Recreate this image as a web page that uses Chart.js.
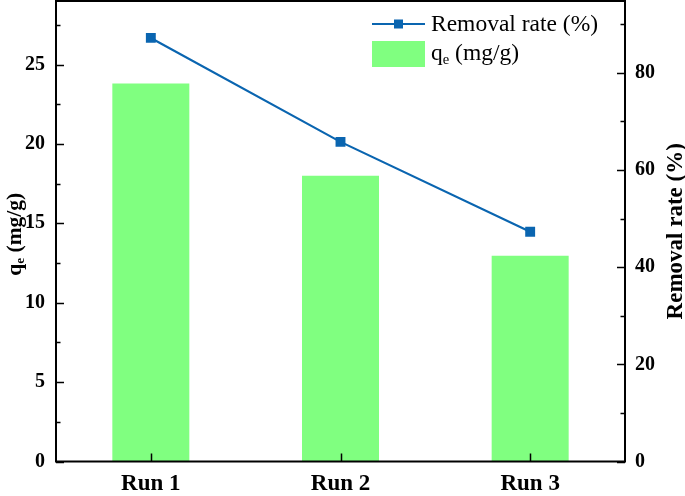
<!DOCTYPE html>
<html>
<head>
<meta charset="utf-8">
<script src="https://cdn.jsdelivr.net/npm/chart.js@4"></script>
<style>
  html, body { margin: 0; padding: 0; background: #fff; }
  #wrap { width: 685px; height: 496px; }
</style>
</head>
<body>
<div id="wrap"><canvas id="chart" width="685" height="496"></canvas></div>
<script>
const categories = ['Run 1', 'Run 2', 'Run 3'];
const qeValues = [23.8, 18.0, 12.95];
const removalValues = [87.2, 65.8, 47.3];
const qeAxisMax = 29;
const removalAxisMax = 94.8;

const SERIF = '"Liberation Serif", "Times New Roman", serif';
const LINE_COLOR = '#0a65b0';
const BAR_COLOR = '#80ff80';

// draws text with a subscript part, left aligned, middle baseline
function drawSubText(ctx, parts, x, y, size, bold) {
    let cx = x;
    parts.forEach(p => {
        const s = p.sub ? size * 0.62 : size;
        ctx.font = `${bold ? 'bold ' : ''}${s}px ${SERIF}`;
        ctx.fillText(p.t, cx, p.sub ? y + size * 0.28 : y);
        cx += ctx.measureText(p.t).width;
    });
    return cx - x;
}

function measureSubText(ctx, parts, size, bold) {
    let w = 0;
    parts.forEach(p => {
        const s = p.sub ? size * 0.62 : size;
        ctx.font = `${bold ? 'bold ' : ''}${s}px ${SERIF}`;
        w += ctx.measureText(p.t).width;
    });
    return w;
}

const framePlugin = {
    id: 'frame',
    afterDraw(chart) {
        const ctx = chart.ctx;
        const a = chart.chartArea;
        const yL = chart.scales.y;
        const yR = chart.scales.y1;
        const xs = chart.scales.x;
        ctx.save();
        ctx.strokeStyle = '#000';
        ctx.lineWidth = 2;
        ctx.strokeRect(a.left, a.top, a.right - a.left, a.bottom - a.top);

        ctx.lineWidth = 1.5;
        ctx.beginPath();
        for (let v = 0; v <= qeAxisMax; v += 2.5) {
            const py = Math.round(yL.getPixelForValue(v)) + 0.5;
            const len = (v % 5 === 0) ? 8 : 4.5;
            ctx.moveTo(a.left, py); ctx.lineTo(a.left + len, py);
        }
        for (let v = 0; v <= removalAxisMax; v += 10) {
            const py = Math.round(yR.getPixelForValue(v)) + 0.5;
            const len = (v % 20 === 0) ? 8 : 4.5;
            ctx.moveTo(a.right, py); ctx.lineTo(a.right - len, py);
        }
        categories.forEach((c, i) => {
            const px = Math.round(xs.getPixelForValue(i)) + 0.5;
            ctx.moveTo(px, a.bottom); ctx.lineTo(px, a.bottom - 8);
        });
        ctx.stroke();

        ctx.fillStyle = '#000';
        ctx.textBaseline = 'middle';
        ctx.textAlign = 'left';

        // left axis title
        const leftParts = [{ t: 'q' }, { t: 'e', sub: true }, { t: ' (mg/g)' }];
        const lw = measureSubText(ctx, leftParts, 21.5, true);
        ctx.save();
        ctx.translate(15, (a.top + a.bottom) / 2 + 3);
        ctx.rotate(-Math.PI / 2);
        drawSubText(ctx, leftParts, -lw / 2, 0, 21.5, true);
        ctx.restore();

        // right axis title
        const rightParts = [{ t: 'Removal rate (%)' }];
        const rw = measureSubText(ctx, rightParts, 23, true);
        ctx.save();
        ctx.translate(676, (a.top + a.bottom) / 2);
        ctx.rotate(-Math.PI / 2);
        drawSubText(ctx, rightParts, -rw / 2, 0, 23, true);
        ctx.restore();

        // legend
        const lx = a.right - 253;
        const ly1 = a.top + 23;
        const ly2 = a.top + 53;
        ctx.strokeStyle = LINE_COLOR;
        ctx.lineWidth = 2;
        ctx.beginPath();
        ctx.moveTo(lx, ly1); ctx.lineTo(lx + 53, ly1);
        ctx.stroke();
        ctx.fillStyle = LINE_COLOR;
        ctx.fillRect(lx + 26.5 - 4.5, ly1 - 4.5, 9, 9);
        ctx.fillStyle = BAR_COLOR;
        ctx.fillRect(lx, ly2 - 13, 53, 26);
        ctx.fillStyle = '#000';
        drawSubText(ctx, [{ t: 'Removal rate (%)' }], lx + 59, ly1 + 1, 23.5, false);
        drawSubText(ctx, [{ t: 'q' }, { t: 'e', sub: true }, { t: ' (mg/g)' }], lx + 59, ly2, 23.5, false);
        ctx.restore();
    }
};

new Chart(document.getElementById('chart'), {
    type: 'bar',
    data: {
        labels: categories,
        datasets: [
            {
                type: 'line',
                label: 'Removal rate (%)',
                data: removalValues,
                yAxisID: 'y1',
                borderColor: LINE_COLOR,
                backgroundColor: LINE_COLOR,
                borderWidth: 2.2,
                pointStyle: 'rect',
                pointRadius: 7,
                pointBorderWidth: 0,
                tension: 0,
                order: 0
            },
            {
                type: 'bar',
                label: 'qe (mg/g)',
                data: qeValues,
                yAxisID: 'y',
                backgroundColor: BAR_COLOR,
                barPercentage: 0.406,
                categoryPercentage: 1,
                order: 1
            }
        ]
    },
    options: {
        responsive: false,
        animation: false,
        layout: { autoPadding: false, padding: { top: 1, left: 0, right: 0, bottom: 0 } },
        plugins: {
            legend: { display: false },
            tooltip: { enabled: false }
        },
        scales: {
            x: {
                offset: true,
                grid: { display: false, drawTicks: false },
                border: { display: false },
                ticks: { color: '#000', padding: 9, font: { family: SERIF, size: 23, weight: 'bold' } },
                afterFit: s => { s.height = 34.5; s.paddingLeft = 0; s.paddingRight = 0; }
            },
            y: {
                position: 'left',
                min: 0,
                max: qeAxisMax,
                grid: { display: false, drawTicks: false },
                border: { display: false },
                ticks: {
                    stepSize: 5,
                    includeBounds: false,
                    color: '#000',
                    padding: 11,
                    font: { family: SERIF, size: 20, weight: 'bold' },
                    callback: v => (v % 5 === 0 ? v : '')
                },
                afterFit: s => { s.width = 56; s.paddingTop = 0; s.paddingBottom = 0; }
            },
            y1: {
                position: 'right',
                min: 0,
                max: removalAxisMax,
                grid: { display: false, drawTicks: false },
                border: { display: false },
                ticks: {
                    stepSize: 20,
                    includeBounds: false,
                    color: '#000',
                    padding: 10,
                    font: { family: SERIF, size: 20, weight: 'bold' },
                    callback: v => (v % 20 === 0 ? v : '')
                },
                afterFit: s => { s.width = 60; s.paddingTop = 0; s.paddingBottom = 0; }
            }
        }
    },
    plugins: [framePlugin]
});
</script>
</body>
</html>
